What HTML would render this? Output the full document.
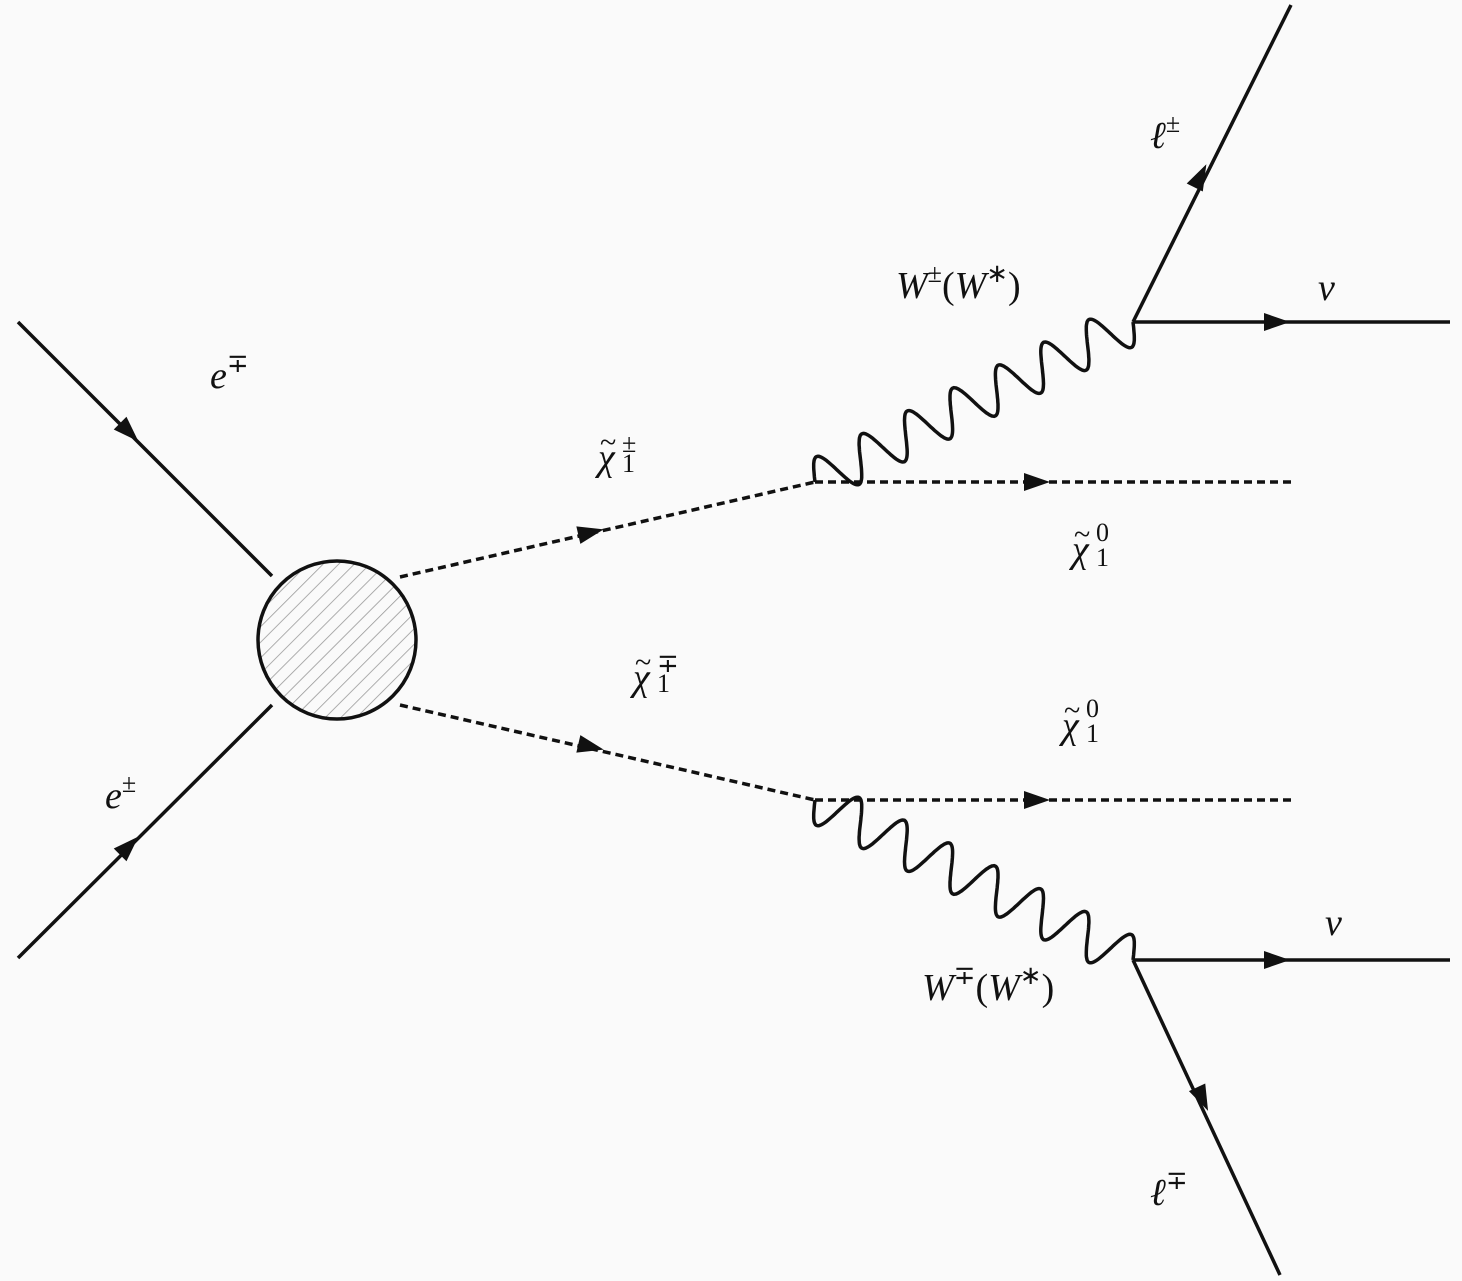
<!DOCTYPE html>
<html><head><meta charset="utf-8"><style>
html,body{margin:0;padding:0;background:#fafafa;}
svg{display:block;}
text{font-family:"Liberation Serif",serif;font-style:italic;fill:#111;}
.r{font-style:normal;}
</style></head><body>
<svg id="s" width="1462" height="1281" viewBox="0 0 1462 1281" xmlns="http://www.w3.org/2000/svg">
<defs>
<pattern id="h" patternUnits="userSpaceOnUse" width="11" height="11" patternTransform="rotate(45)">
<line x1="0" y1="0" x2="0" y2="11" stroke="#999" stroke-width="1.6"/>
</pattern>
</defs>
<g stroke="#111" stroke-width="3.5" fill="none">
<line x1="18" y1="322" x2="272" y2="576"/>
<line x1="18" y1="958" x2="272" y2="705"/>
<line x1="1133" y1="322" x2="1291" y2="5"/>
<line x1="1133" y1="322" x2="1450" y2="322"/>
<line x1="1133" y1="960" x2="1450" y2="960"/>
<line x1="1133" y1="960" x2="1280" y2="1275"/>
<g stroke-dasharray="8,5">
<line x1="400" y1="577" x2="815" y2="482"/>
<line x1="815" y1="482" x2="1293" y2="482"/>
<line x1="400" y1="705" x2="815" y2="800"/>
<line x1="815" y1="800" x2="1293" y2="800"/>
</g>
<path id="w1"/><path id="w2"/>
</g>
<circle cx="337" cy="640" r="79" fill="url(#h)" stroke="#111" stroke-width="3.5"/>
<g fill="#111">
<polygon points="-14,-9 12,0 -14,9" transform="translate(130,433) rotate(45)"/>
<polygon points="-14,-9 12,0 -14,9" transform="translate(130,845) rotate(-45)"/>
<polygon points="-14,-9 12,0 -14,9" transform="translate(592,532) rotate(-12.9)"/>
<polygon points="-14,-9 12,0 -14,9" transform="translate(592,747) rotate(12.9)"/>
<polygon points="-14,-9 12,0 -14,9" transform="translate(1038,482)"/>
<polygon points="-14,-9 12,0 -14,9" transform="translate(1038,800)"/>
<polygon points="-14,-9 12,0 -14,9" transform="translate(1278,322)"/>
<polygon points="-14,-9 12,0 -14,9" transform="translate(1278,960)"/>
<polygon points="-14,-9 12,0 -14,9" transform="translate(1201,175) rotate(-63.5)"/>
<polygon points="-14,-9 12,0 -14,9" transform="translate(1203,1100) rotate(65)"/>
</g>
<g font-size="38">
<text x="210" y="388">e<tspan class="r" font-size="26" dy="-16">∓</tspan></text>
<text x="105" y="808">e<tspan class="r" font-size="26" dy="-16">±</tspan></text>

<text x="598" y="470">χ</text><text class="r" x="600" y="452" font-size="30">~</text>
<text class="r" x="622" y="452" font-size="26">±</text><text class="r" x="622" y="472" font-size="26">1</text>

<text x="633" y="690">χ</text><text class="r" x="635" y="672" font-size="30">~</text>
<text class="r" x="657" y="672" font-size="26">∓</text><text class="r" x="657" y="692" font-size="26">1</text>

<text x="1072" y="562">χ</text><text class="r" x="1074" y="544" font-size="30">~</text>
<text class="r" x="1096" y="541" font-size="26">0</text><text class="r" x="1096" y="566" font-size="26">1</text>

<text x="1062" y="738">χ</text><text class="r" x="1064" y="720" font-size="30">~</text>
<text class="r" x="1086" y="717" font-size="26">0</text><text class="r" x="1086" y="742" font-size="26">1</text>

<text x="896" y="298">W<tspan class="r" font-size="26" dy="-16">±</tspan><tspan class="r" dy="16">(</tspan>W<tspan class="r" font-size="26" dy="-16">∗</tspan><tspan class="r" dy="16">)</tspan></text>
<text x="922" y="1000">W<tspan class="r" font-size="26" dy="-16">∓</tspan><tspan class="r" dy="16">(</tspan>W<tspan class="r" font-size="26" dy="-16">∗</tspan><tspan class="r" dy="16">)</tspan></text>
<text x="1150" y="148">ℓ<tspan class="r" font-size="26" dy="-16">±</tspan></text>
<text x="1150" y="1205">ℓ<tspan class="r" font-size="26" dy="-16">∓</tspan></text>
<text x="1318" y="300">ν</text>
<text x="1325" y="935">ν</text>
</g>
</svg>
<script>
function wave(id,x0,y0,x1,y1,n,a,sgn){
 var dx=x1-x0,dy=y1-y0,L=Math.hypot(dx,dy),ux=dx/L,uy=dy/L,px=-uy*sgn,py=ux*sgn,d="";
 var N=400;
 for(var i=0;i<=N;i++){var t=i/N,s=Math.sin(2*Math.PI*n*t)*a;
  var x=x0+dx*t+px*s,y=y0+dy*t+py*s;d+=(i?"L":"M")+x.toFixed(1)+","+y.toFixed(1);}
 document.getElementById(id).setAttribute("d",d);
}
wave("w1",815,482,1133,322,7,22,-1);
wave("w2",815,800,1133,960,7,22,1);
</script>
</body></html>
